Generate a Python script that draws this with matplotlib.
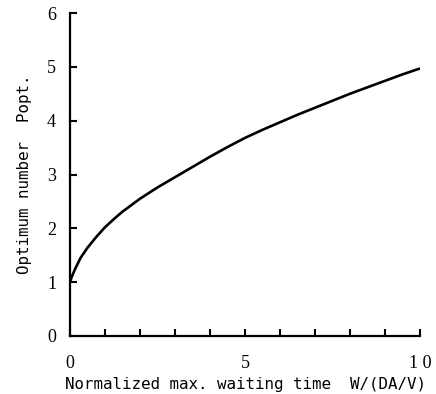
import matplotlib
matplotlib.use("Agg")
import matplotlib.pyplot as plt

# Data
W = [0.0, 0.05, 0.15, 0.3, 0.5, 0.75, 1.0, 1.25, 1.5, 2.0, 2.5, 3.0, 3.5, 4.0, 4.5, 5.0, 5.5, 6.0, 6.5, 7.0, 7.5, 8.0, 8.5, 9.0, 9.5, 10.0]
P = [1.0, 1.1, 1.25, 1.45, 1.64, 1.84, 2.02, 2.17, 2.31, 2.55, 2.76, 2.95, 3.14, 3.33, 3.51, 3.68, 3.83, 3.97, 4.11, 4.24, 4.37, 4.50, 4.62, 4.74, 4.86, 4.97]

x_ticks = list(range(0, 11))
x_labels = ["0", "", "", "", "", "5", "", "", "", "", "1 0"]
y_ticks = [0, 1, 2, 3, 4, 5, 6]
y_labels = ["0", "1", "2", "3", "4", "5", "6"]

fig = plt.figure(figsize=(4.36, 3.94), dpi=100)
ax = fig.add_axes([70/436, 58/394, 350/436, 323/394])

ax.plot(W, P, color="black", lw=1.9, solid_capstyle="butt", solid_joinstyle="round")

ax.set_xlim(0, 10)
ax.set_ylim(0, 6)
for s in ["top", "right"]:
    ax.spines[s].set_visible(False)
for s in ["left", "bottom"]:
    ax.spines[s].set_linewidth(1.6)

serif = "Liberation Serif"
mono = "DejaVu Sans Mono"

ax.set_xticks(x_ticks)
ax.set_xticklabels(x_labels, fontfamily=serif, fontsize=13)
ax.set_yticks(y_ticks)
ax.set_yticklabels(y_labels, fontfamily=serif, fontsize=13)
ax.tick_params(axis="x", direction="in", length=5, width=1.5, pad=14)
ax.tick_params(axis="y", direction="in", length=5, width=1.5, pad=10)

ax.set_xlabel("Normalized max. waiting time  W/(DA/V)", fontfamily=mono, fontsize=11.4, labelpad=3)
ax.set_ylabel("Optimum number  Popt.", fontfamily=mono, fontsize=11.4, labelpad=11)

fig.savefig("out.png", dpi=100)
